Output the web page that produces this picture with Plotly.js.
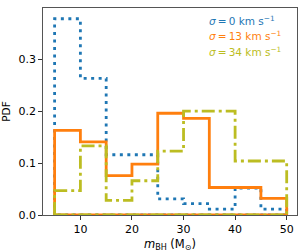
<!DOCTYPE html>
<html><head><meta charset="utf-8">
<script src="https://cdn.plot.ly/plotly-3.0.1.min.js"></script>
<style>html,body{margin:0;padding:0;background:#fff}#c{width:307px;height:252px}</style>
</head><body><div id="c"></div>
<script>
const binEdges = [5, 10, 15, 20, 25, 30, 35, 40, 45, 50];
const pdfSigma0  = [0.378, 0.263, 0.116, 0.116, 0.031, 0.022, 0.0115, 0.052, 0.0115];
const pdfSigma13 = [0.163, 0.141, 0.076, 0.098, 0.196, 0.186, 0.053, 0.053, 0.032];
const pdfSigma34 = [0.047, 0.133, 0.028, 0.066, 0.123, 0.200, 0.200, 0.104, 0.104];
const seriesLabels = ['<i>σ</i>\u2009=\u20090 km s<sup>−1</sup>', '<i>σ</i>\u2009=\u200913 km s<sup>−1</sup>', '<i>σ</i>\u2009=\u200934 km s<sup>−1</sup>'];
const xTicks = [10, 20, 30, 40, 50];
const yTicks = [0.0, 0.1, 0.2, 0.3];

function outline(edges, vals) {
  const xs = [edges[0]], ys = [0];
  for (let i = 0; i < vals.length; i++) {
    xs.push(edges[i], edges[i + 1]);
    ys.push(vals[i], vals[i]);
  }
  xs.push(edges[edges.length - 1], edges[0]);
  ys.push(0, 0);
  return {xs, ys};
}
const colors = ['#1f77b4', '#ff7f0e', '#bcbd22'];
const dashes = ['3px,4.5px', 'solid', '13px,4px,3px,4px'];
const all = [pdfSigma0, pdfSigma13, pdfSigma34];
const traces = all.map((v, i) => {
  const o = outline(binEdges, v);
  return {x: o.xs, y: o.ys, type: 'scatter', mode: 'lines',
    line: {color: colors[i], width: 2.8, dash: dashes[i], shape: 'linear'},
    hoverinfo: 'skip', showlegend: false};
});
const font = {family: 'DejaVu Sans', size: 11, color: '#000'};
const annotations = seriesLabels.map((t, i) => ({
  xref: 'paper', yref: 'paper', x: (208 - 43) / 255, y: (215 - [20, 35.5, 51][i]) / 207,
  xanchor: 'left', yanchor: 'middle', text: t, showarrow: false,
  font: {family: 'DejaVu Sans', size: 10.5, color: colors[i]}
}));
const layout = {
  width: 307, height: 252,
  margin: {l: 43, r: 10, t: 8, b: 37},
  paper_bgcolor: '#fff', plot_bgcolor: '#fff',
  showlegend: false,
  font: font,
  xaxis: {range: [2.75, 52.0], tickvals: xTicks, ticktext: xTicks.map(String),
    ticks: 'outside', ticklen: 3.5, tickwidth: 1, tickcolor: '#333',
    showline: true, mirror: true, linecolor: '#555', linewidth: 1.2,
    showgrid: false, zeroline: false, tickfont: {family: 'DejaVu Sans', size: 11, color: '#000'},
    title: {text: '<i>m</i><sub>BH</sub> (M<sub>⊙</sub>)', font: {family: 'DejaVu Sans', size: 11.5, color: '#000'}, standoff: 5}},
  yaxis: {range: [0, 0.3987], tickvals: yTicks, ticktext: yTicks.map(v => v.toFixed(1)),
    ticks: 'outside', ticklen: 3.5, tickwidth: 1, tickcolor: '#333',
    showline: true, mirror: true, linecolor: '#555', linewidth: 1.2,
    showgrid: false, zeroline: false, tickfont: {family: 'DejaVu Sans', size: 11, color: '#000'},
    title: {text: 'PDF', font: {family: 'DejaVu Sans', size: 10.5, color: '#000'}, standoff: 6}},
  annotations: annotations
};
Plotly.newPlot('c', traces, layout, {staticPlot: true, displayModeBar: false});
</script></body></html>
